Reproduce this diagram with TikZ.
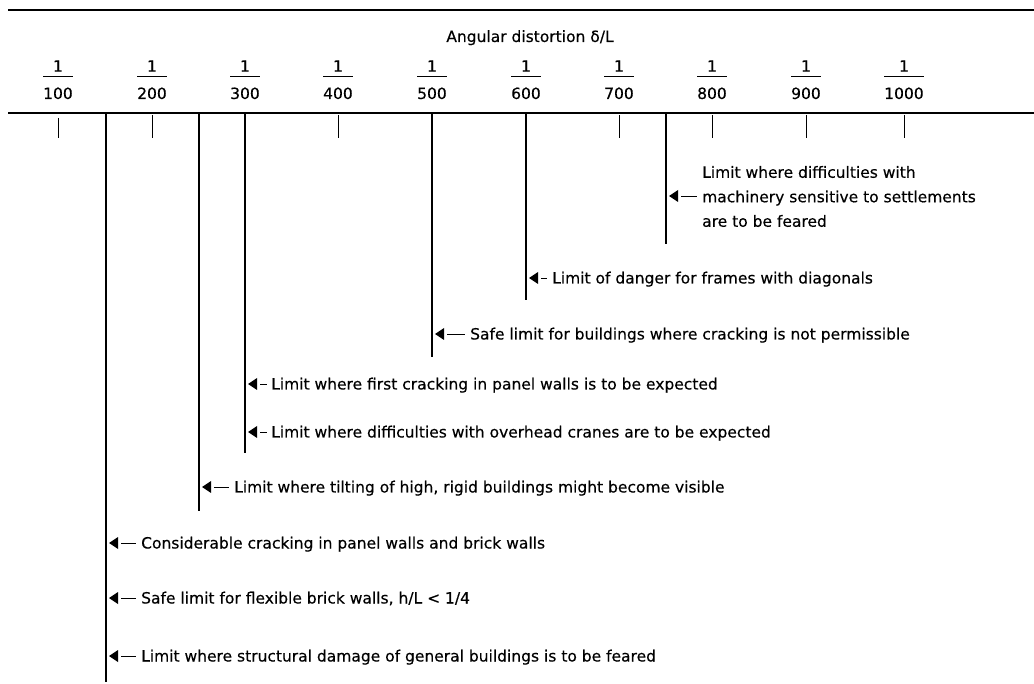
\documentclass[tikz,border=0pt]{standalone}
\usepackage{fontspec}
\setmainfont{DejaVu Sans}[BoldFont={DejaVu Sans}, BoldFeatures={FakeBold=0.3}]

\tikzset{
  rule/.style={line width=1.3pt},
  limit/.style={line width=1.1pt},
  short/.style={line width=0.9pt},
  note/.style={anchor=base west, inner sep=0pt, font=\fontsize{15.5}{24.5}\selectfont\bfseries},
  num/.style={inner sep=0pt, font=\fontsize{15.5}{18}\selectfont\bfseries},
  den/.style={num, anchor=base,
    append after command={([yshift=11pt]\tikzlastnode.north west)
      edge[line width=1pt] ([yshift=11pt]\tikzlastnode.north east)}},
  pointer/.pic={\fill (3,0) -- (12,-6) -- (12,6) -- cycle;}
}

\begin{document}
\begin{tikzpicture}[x=1pt,y=-1pt]
  \useasboundingbox (0,0) rectangle (1034,684);
  % frame of the scale
  \draw[rule] (8,10) -- (1034,10);
  \draw[rule] (8,113) -- (1034,113);
  \node[note, anchor=base] (title) at (530,42) {Angular distortion δ/L};
  % fractions
  \node[den, label={[num, label distance=15.5pt]above:1}] (d100) at (58,99) {100};
  \node[den, label={[num, label distance=15.5pt]above:1}] (d200) at (152,99) {200};
  \node[den, label={[num, label distance=15.5pt]above:1}] (d300) at (245,99) {300};
  \node[den, label={[num, label distance=15.5pt]above:1}] (d400) at (338,99) {400};
  \node[den, label={[num, label distance=15.5pt]above:1}] (d500) at (432,99) {500};
  \node[den, label={[num, label distance=15.5pt]above:1}] (d600) at (526,99) {600};
  \node[den, label={[num, label distance=15.5pt]above:1}] (d700) at (619,99) {700};
  \node[den, label={[num, label distance=15.5pt]above:1}] (d800) at (712,99) {800};
  \node[den, label={[num, label distance=15.5pt]above:1}] (d900) at (806,99) {900};
  \node[den, label={[num, label distance=15.5pt]above:1}] (d1000) at (904,99) {1000};
  % short ticks
  \draw[short] (58,118) -- (58,138);
  \draw[short] (152,115) -- (152,138);
  \draw[short] (338,115) -- (338,138);
  \draw[short] (619,115) -- (619,138);
  \draw[short] (712,115) -- (712,138);
  \draw[short] (806,115) -- (806,138);
  \draw[short] (904,115) -- (904,138);
  % limit lines
  \coordinate (topA) at (106,113);  \coordinate (botA) at (106,682);
  \coordinate (topB) at (199,113);  \coordinate (botB) at (199,511);
  \coordinate (topC) at (245,113);  \coordinate (botC) at (245,453);
  \coordinate (topD) at (432,113);  \coordinate (botD) at (432,357);
  \coordinate (topE) at (526,113);  \coordinate (botE) at (526,300);
  \coordinate (topF) at (666,113);  \coordinate (botF) at (666,244);
  \draw[limit] (topA) -- (botA);
  \draw[limit] (topB) -- (botB);
  \draw[limit] (topC) -- (botC);
  \draw[limit] (topD) -- (botD);
  \draw[limit] (topE) -- (botE);
  \draw[limit] (topF) -- (botF);
  % remarks
  \coordinate (machinery) at (666,196);
  \pic at (machinery) {pointer};
  \node[note, anchor=west, align=left] (machinery-t) at (702,196.5)
    {Limit where difficulties with\\machinery sensitive to settlements\\are to be feared};
  \draw ([xshift=15pt]machinery) -- ([xshift=-5pt]machinery -| machinery-t.west);

  \coordinate (frames) at (526,278);
  \pic at (frames) {pointer};
  \node[note] (frames-t) at (552,283.5) {Limit of danger for frames with diagonals};
  \draw ([xshift=15pt]frames) -- ([xshift=-5pt]frames -| frames-t.west);

  \coordinate (safe) at (432,334);
  \pic at (safe) {pointer};
  \node[note] (safe-t) at (470,339.5) {Safe limit for buildings where cracking is not permissible};
  \draw ([xshift=15pt]safe) -- ([xshift=-5pt]safe -| safe-t.west);

  \coordinate (panel) at (245,384);
  \pic at (panel) {pointer};
  \node[note] (panel-t) at (271,389.5) {Limit where first cracking in panel walls is to be expected};
  \draw ([xshift=15pt]panel) -- ([xshift=-4pt]panel -| panel-t.west);

  \coordinate (cranes) at (245,432);
  \pic at (cranes) {pointer};
  \node[note] (cranes-t) at (271,437.5) {Limit where difficulties with overhead cranes are to be expected};
  \draw ([xshift=15pt]cranes) -- ([xshift=-4pt]cranes -| cranes-t.west);

  \coordinate (tilting) at (199,487);
  \pic at (tilting) {pointer};
  \node[note] (tilting-t) at (234,492.5) {Limit where tilting of high, rigid buildings might become visible};
  \draw ([xshift=15pt]tilting) -- ([xshift=-5pt]tilting -| tilting-t.west);

  \coordinate (cracking) at (106,543);
  \pic at (cracking) {pointer};
  \node[note] (cracking-t) at (141,548.5) {Considerable cracking in panel walls and brick walls};
  \draw ([xshift=15pt]cracking) -- ([xshift=-5pt]cracking -| cracking-t.west);

  \coordinate (brick) at (106,598);
  \pic at (brick) {pointer};
  \node[note] (brick-t) at (141,603.5) {Safe limit for flexible brick walls, h/L < 1/4};
  \draw ([xshift=15pt]brick) -- ([xshift=-5pt]brick -| brick-t.west);

  \coordinate (damage) at (106,656);
  \pic at (damage) {pointer};
  \node[note] (damage-t) at (141,661.5) {Limit where structural damage of general buildings is to be feared};
  \draw ([xshift=15pt]damage) -- ([xshift=-5pt]damage -| damage-t.west);
\end{tikzpicture}
\end{document}
